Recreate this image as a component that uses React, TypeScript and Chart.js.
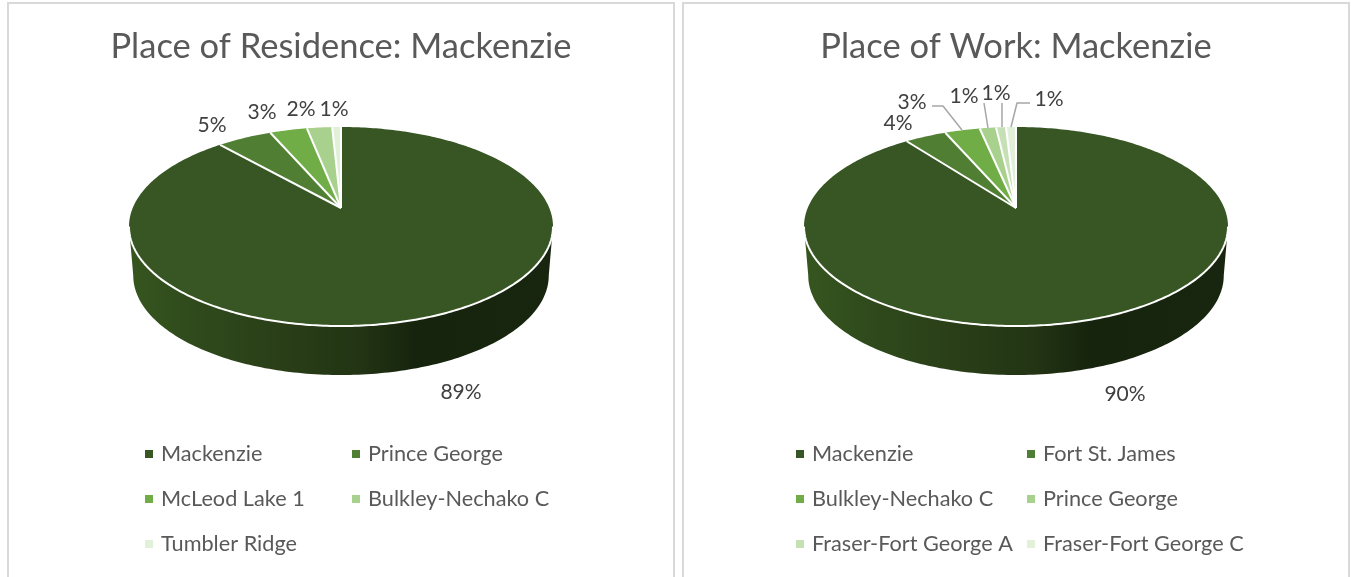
import React, { useEffect, useRef } from "react";
import { Chart, registerables } from "chart.js";

Chart.register(...registerables);

const FONT = "Lato, Carlito, 'Open Sans', sans-serif";
const TEXT_COLOR = "#595959";
const LABEL_COLOR = "#404040";

// Data
const residenceTitle = "Place of Residence: Mackenzie";
const residenceLabels = ["Mackenzie", "Prince George", "McLeod Lake 1", "Bulkley-Nechako C", "Tumbler Ridge"];
const residenceValues = [88.5, 5.0, 3.4, 2.3, 0.8];
const residenceColors = ["#375623", "#507e32", "#70ad47", "#a9d18e", "#e2f0d9"];

const workTitle = "Place of Work: Mackenzie";
const workLabels = ["Mackenzie", "Fort St. James", "Bulkley-Nechako C", "Prince George", "Fraser-Fort George A", "Fraser-Fort George C"];
const workValues = [89.7, 3.8, 3.2, 1.49, 0.9, 0.91];
const workColors = ["#375623", "#507e32", "#70ad47", "#a9d18e", "#c5e0b4", "#e2f0d9"];

type Cfg = {
  title: string;
  labels: string[];
  values: number[];
  colors: string[];
  labelPos: number[][];
  leaders: (number[][] | null)[];
  legendCols: number[];
};

const residenceCfg: Cfg = {
  title: residenceTitle,
  labels: residenceLabels,
  values: residenceValues,
  colors: residenceColors,
  labelPos: [[454, 390], [205, 123], [255, 110], [294, 107], [327, 107]],
  leaders: [null, null, null, null, null],
  legendCols: [138, 345],
};

const workCfg: Cfg = {
  title: workTitle,
  labels: workLabels,
  values: workValues,
  colors: workColors,
  labelPos: [[443, 392], [216, 121], [230, 100], [282, 94], [314, 91], [367, 97]],
  leaders: [
    null,
    null,
    [[250, 104], [261, 104], [280, 128]],
    [[302, 101], [306, 126]],
    [[320, 101], [320, 125]],
    [[348, 101], [335, 101], [329, 125]],
  ],
  legendCols: [114, 345],
};

const CAN_W = 668;
const CAN_H = 575;
const RADIUS = 208.3;
const K = -0.186;
const ASPECT = 96.06 / 208.3;
const DEPTH = 49;
const LOWER_SCALE = 0.98;

function project(cx: number, cy: number, r: number, angle: number, lower = false) {
  const X = Math.cos(angle);
  const Y = Math.sin(angle);
  const d = 1 + K * Y;
  const px = (r * X) / d;
  const py = (r * ASPECT * Y) / d;
  return lower
    ? { x: cx + px * LOWER_SCALE, y: cy + py + DEPTH }
    : { x: cx + px, y: cy + py };
}

const TANGENT = Math.asin(0.187);

function makePlugin(cfg: Cfg) {
  return {
    id: "pie3d",
    beforeDatasetsDraw(chart: any) {
      const { ctx } = chart;
      const arcs = chart.getDatasetMeta(0).data as any[];
      const cx = arcs[0].x;
      const cy = arcs[0].y;
      const r = arcs[0].outerRadius;
      ctx.save();

      // Side wall of every slice facing the viewer
      const left = project(cx, cy, r, Math.PI - TANGENT);
      const right = project(cx, cy, r, TANGENT);
      const wall = ctx.createLinearGradient(left.x, 0, right.x, 0);
      wall.addColorStop(0, "#36561f");
      wall.addColorStop(0.15, "#2f4a1c");
      wall.addColorStop(0.35, "#2a3f18");
      wall.addColorStop(0.55, "#223414");
      wall.addColorStop(0.68, "#16230d");
      wall.addColorStop(1, "#18250f");
      arcs.forEach((arc) => {
        const a0 = Math.max(arc.startAngle, TANGENT);
        const a1 = Math.min(arc.endAngle, Math.PI - TANGENT);
        if (a1 <= a0) return;
        ctx.beginPath();
        const n = 160;
        for (let i = 0; i <= n; i++) {
          const p = project(cx, cy, r, a0 + ((a1 - a0) * i) / n);
          if (i === 0) ctx.moveTo(p.x, p.y);
          else ctx.lineTo(p.x, p.y);
        }
        for (let i = n; i >= 0; i--) {
          const p = project(cx, cy, r, a0 + ((a1 - a0) * i) / n, true);
          ctx.lineTo(p.x, p.y);
        }
        ctx.closePath();
        ctx.fillStyle = wall;
        ctx.fill();
      });

      // Top faces
      arcs.forEach((arc, idx) => {
        ctx.beginPath();
        ctx.moveTo(cx, cy);
        const span = arc.endAngle - arc.startAngle;
        const n = Math.max(4, Math.ceil(span * 60));
        for (let i = 0; i <= n; i++) {
          const p = project(cx, cy, r, arc.startAngle + (span * i) / n);
          ctx.lineTo(p.x, p.y);
        }
        ctx.closePath();
        ctx.fillStyle = cfg.colors[idx];
        ctx.fill();
      });

      // White separators and rim
      ctx.strokeStyle = "#ffffff";
      ctx.lineWidth = 2;
      ctx.lineJoin = "round";
      arcs.forEach((arc) => {
        const p = project(cx, cy, r, arc.startAngle);
        ctx.beginPath();
        ctx.moveTo(cx, cy);
        ctx.lineTo(p.x, p.y);
        ctx.stroke();
      });
      ctx.beginPath();
      for (let i = 0; i <= 200; i++) {
        const p = project(cx, cy, r, TANGENT + ((Math.PI - 2 * TANGENT) * i) / 200);
        if (i === 0) ctx.moveTo(p.x, p.y);
        else ctx.lineTo(p.x, p.y);
      }
      ctx.stroke();

      // Leader lines
      ctx.strokeStyle = "#a6a6a6";
      ctx.lineWidth = 1.5;
      cfg.leaders.forEach((pts) => {
        if (!pts) return;
        ctx.beginPath();
        pts.forEach(([x, y], i) => (i === 0 ? ctx.moveTo(x, y) : ctx.lineTo(x, y)));
        ctx.stroke();
      });

      // Value labels
      ctx.fillStyle = LABEL_COLOR;
      ctx.font = `21px ${FONT}`;
      ctx.textAlign = "center";
      ctx.textBaseline = "middle";
      cfg.values.forEach((v, i) => {
        const [x, y] = cfg.labelPos[i];
        ctx.fillText(`${Math.round(v)}%`, x, y);
      });

      // Legend
      ctx.textAlign = "left";
      ctx.font = `21.7px ${FONT}`;
      cfg.labels.forEach((label, i) => {
        const col = cfg.legendCols[i % 2];
        const y = 452 + 45 * Math.floor(i / 2);
        ctx.fillStyle = cfg.colors[i];
        ctx.fillRect(col, y - 4, 8, 8);
        ctx.fillStyle = TEXT_COLOR;
        ctx.fillText(label, col + 16, y);
      });

      ctx.restore();
      return false;
    },
  };
}

function PieCard({ cfg, left }: { cfg: Cfg; left: number }) {
  const ref = useRef<HTMLCanvasElement>(null);
  useEffect(() => {
    const chart = new Chart(ref.current as HTMLCanvasElement, {
      type: "pie",
      data: {
        labels: cfg.labels,
        datasets: [{ data: cfg.values, backgroundColor: cfg.colors, borderWidth: 0, radius: RADIUS } as any],
      },
      options: {
        responsive: false,
        animation: false,
        layout: { padding: { top: 0, bottom: 228.7 } },
        plugins: {
          legend: { display: false },
          tooltip: { enabled: false },
          title: {
            display: true,
            text: cfg.title,
            color: TEXT_COLOR,
            font: { family: FONT, size: 34.5, weight: "normal", lineHeight: 1.2 },
            padding: { top: 24.3, bottom: 0 },
          },
        },
      } as any,
      plugins: [makePlugin(cfg) as any],
    });
    return () => chart.destroy();
  }, [cfg]);
  return (
    <div
      style={{
        position: "absolute",
        left,
        top: 2,
        width: CAN_W,
        height: 620,
        boxSizing: "border-box",
        border: "2px solid #d9d9d9",
        background: "#fff",
      }}
    >
      <canvas
        ref={ref}
        width={CAN_W}
        height={CAN_H}
        style={{ position: "absolute", left: -2, top: -2, width: CAN_W, height: CAN_H }}
      />
    </div>
  );
}

export default function App() {
  return (
    <div style={{ position: "fixed", left: 0, top: 0, width: 1351, height: 577, overflow: "hidden", background: "#fff" }}>
      <PieCard cfg={residenceCfg} left={7} />
      <PieCard cfg={workCfg} left={682} />
    </div>
  );
}
